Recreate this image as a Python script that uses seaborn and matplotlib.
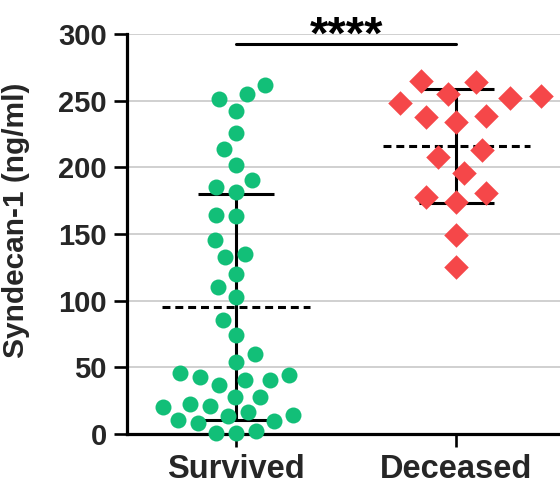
import numpy as np
import pandas as pd
import matplotlib
matplotlib.use("Agg")
import matplotlib.pyplot as plt
from matplotlib.markers import MarkerStyle
import seaborn as sns

# ---- data ----
categories = ["Survived", "Deceased"]
survived = [262, 251, 255, 242.5, 225.75, 213.75, 201.75, 185.25, 181.5, 190.7,
            163.5, 164, 145.2, 134.75, 132.5, 120.25, 110, 103, 85.25, 74.25,
            60, 53.75, 36.5, 40.75, 40.25, 42.5, 44.25, 46, 28, 27.5,
            22.25, 21.25, 16.25, 13.75, 20.25, 8.5, 10.25, 14.25, 9.75, 2.5,
            0.5, 1]
deceased = [264.5, 263.75, 253.75, 252.25, 255, 248.5, 238.5, 237.5, 234, 213,
            207.5, 195.5, 178, 181, 174.25, 149.25, 125]
yticks = [0, 50, 100, 150, 200, 250, 300]
sig_label = "****"
ylabel = "Syndecan-1 (ng/ml)"

colors = {"Survived": "#12BF78", "Deceased": "#F54749"}
markers = {"Survived": "o", "Deceased": "D"}
vis_size = {"Survived": 11.5, "Deceased": 12.5}
layout_size = {"Survived": 14.0, "Deceased": 21.0}

sns.set_theme(style="white")
plt.rcParams['font.family'] = ['Liberation Sans', 'DejaVu Sans']
plt.rcParams['font.weight'] = 'bold'

df = pd.DataFrame({
    "group": ["Survived"] * len(survived) + ["Deceased"] * len(deceased),
    "value": survived + deceased,
})

fig = plt.figure(figsize=(5.6, 4.87), dpi=100)
ax = fig.add_axes([127 / 560, 53 / 487, 433 / 560, 400 / 487])

coll_map = {}
for cat in categories:
    n0 = len(ax.collections)
    sub = df[df["group"] == cat]
    sns.swarmplot(data=sub, x="group", y="value", order=categories,
                  color=colors[cat], marker="o", size=layout_size[cat],
                  linewidth=0, ax=ax, zorder=4, clip_on=False, warn_thresh=1)
    coll_map[cat] = ax.collections[n0:]

ax.set_xlim(-0.495, 1.47)
ax.set_ylim(0, 300)

# compute swarm layout with wider spacing, then set final marker shape/size
fig.canvas.draw()
for cat, colls in coll_map.items():
    ms = MarkerStyle(markers[cat])
    for coll in colls:
        if "draw" in coll.__dict__:
            del coll.__dict__["draw"]
        coll.set_paths([ms.get_path().transformed(ms.get_transform())])
        coll.set_sizes([vis_size[cat] ** 2])

# mean +/- SD
lw = 2.2
for i, cat in enumerate(categories):
    vals = np.asarray(df.loc[df["group"] == cat, "value"])
    m = vals.mean()
    s = vals.std(ddof=1)
    ax.hlines(m, i - 0.335, i + 0.335, colors="black", lw=lw,
              linestyles=(0, (2.6, 1.6)), zorder=3)
    ax.vlines(i, m - s, m + s, colors="black", lw=lw, zorder=3)
    ax.hlines([m - s, m + s], i - 0.172, i + 0.172, colors="black", lw=lw, zorder=3)

# significance bar
ax.plot([0, 1], [292.5, 292.5], color="black", lw=lw, solid_capstyle="round",
        clip_on=False, zorder=3)
ax.text(0.5, 289, sig_label, ha="center", va="baseline", fontsize=34,
        fontweight="bold", color="black", clip_on=False)

# axes styling
ax.set_yticks(yticks)
ax.set_yticklabels([str(t) for t in yticks])
ax.yaxis.grid(True, color="#c8c8c8", lw=1.2)
ax.xaxis.grid(False)
ax.set_axisbelow(True)
for side in ["top", "right"]:
    ax.spines[side].set_visible(False)
for side in ["left", "bottom"]:
    ax.spines[side].set_linewidth(2.3)
    ax.spines[side].set_color("black")
ax.tick_params(axis="both", direction="out", length=9.5, width=1.9,
               color="black", left=True, bottom=True)
ax.tick_params(axis="y", labelsize=21, pad=5)
ax.tick_params(axis="x", labelsize=23.5, pad=5)
for lab in ax.get_xticklabels() + ax.get_yticklabels():
    lab.set_fontweight("bold")
ax.set_xlabel("")
ax.set_ylabel(ylabel, fontsize=21.5, fontweight="bold")
ax.yaxis.set_label_coords(-0.224, 0.535)

fig.savefig("out.png", dpi=100)
